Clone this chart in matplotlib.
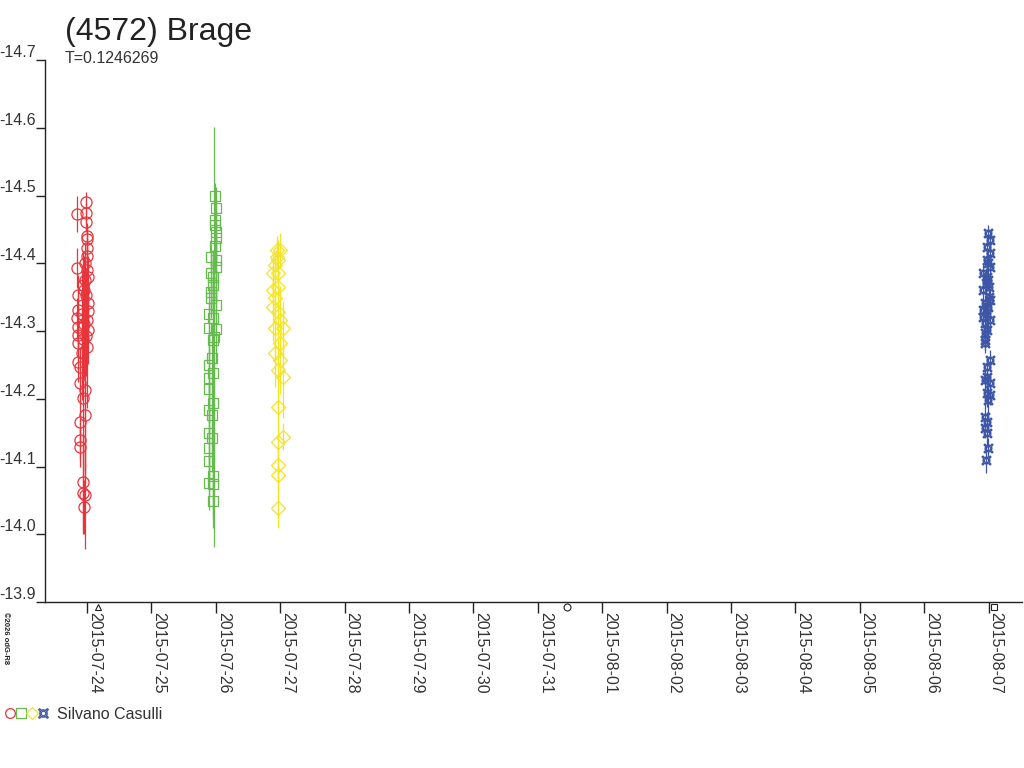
import datetime as dt
import matplotlib
matplotlib.use("Agg")
import matplotlib.pyplot as plt
import matplotlib.dates as mdates
from matplotlib.lines import Line2D

plt.rcParams['font.family'] = ['Liberation Sans', 'DejaVu Sans']

TITLE = "(4572) Brage"
PERIOD = "T=0.1246269"
OBSERVER = "Silvano Casulli"

# each night: hours relative to the date, magnitude, error
red_day = dt.datetime(2015, 7, 24)
red_h = [-0.37, -3.73, -0.37, -0.37, 0.0, 0.0, 0.0, 0.0, -0.75, -3.73, 0.0, 0.37, -0.75,
         -1.49, -1.12, -3.35, -0.37, 0.37, -3.35, 0.37, -1.86, -3.73, 0.0, -1.12, -3.35,
         0.37, -3.35, -0.37, -1.49, -3.35, 0.0, -1.86, -3.35, -2.61, -2.61, -0.75, -1.49,
         -0.75, -2.61, -2.61, -2.61, -1.49, -1.49, -0.75, -1.12]
red_mag = [-14.490, -14.473, -14.474, -14.461, -14.440, -14.436, -14.423, -14.411, -14.400,
           -14.393, -14.390, -14.380, -14.375, -14.368, -14.360, -14.353, -14.353, -14.341,
           -14.331, -14.330, -14.325, -14.319, -14.316, -14.310, -14.306, -14.301, -14.294,
           -14.293, -14.288, -14.282, -14.276, -14.268, -14.254, -14.247, -14.223, -14.213,
           -14.201, -14.176, -14.166, -14.139, -14.129, -14.077, -14.061, -14.058, -14.040]
red_err = [0.015, 0.027, 0.015, 0.015, 0.02, 0.02, 0.025, 0.025, 0.03, 0.03, 0.03, 0.03, 0.04,
           0.05, 0.05, 0.03, 0.04, 0.04, 0.03, 0.04, 0.06, 0.03, 0.06, 0.08, 0.03, 0.05, 0.03,
           0.06, 0.08, 0.03, 0.09, 0.07, 0.03, 0.03, 0.03, 0.12, 0.08, 0.1, 0.03, 0.03, 0.03,
           0.07, 0.06, 0.08, 0.04]

green_day = dt.datetime(2015, 7, 26)
green_h = [-0.37, 0.0, -0.37, -0.37, 0.0, 0.0, -0.37, -1.86, 0.0, 0.0, -1.86, -1.12, -1.12,
           -1.86, -1.86, 0.0, -2.61, -1.12, -2.61, 0.0, -1.12, -0.75, -1.49, -2.61, -1.12,
           -2.61, -2.61, -1.12, -2.61, -1.49, -2.61, -1.49, -2.61, -2.61, -1.12, -2.61, -1.12,
           -1.12]
green_mag = [-14.499, -14.482, -14.464, -14.456, -14.446, -14.437, -14.425, -14.409, -14.405,
             -14.394, -14.386, -14.380, -14.368, -14.358, -14.349, -14.338, -14.325, -14.319,
             -14.304, -14.303, -14.287, -14.291, -14.260, -14.250, -14.238, -14.231, -14.214,
             -14.194, -14.183, -14.176, -14.149, -14.142, -14.127, -14.108, -14.086, -14.076,
             -14.074, -14.049]
green_err = [0.02, 0.03, 0.03, 0.03, 0.04, 0.04, 0.04, 0.02, 0.05, 0.05, 0.03, 0.04, 0.04,
             0.03, 0.03, 0.05, 0.04, 0.05, 0.04, 0.05, 0.06, 0.31, 0.05, 0.04, 0.05, 0.05,
             0.05, 0.06, 0.04, 0.07, 0.07, 0.05, 0.06, 0.05, 0.06, 0.04, 0.05, 0.04]

yellow_day = dt.datetime(2015, 7, 27)
yellow_h = [-1.12, 0.0, -1.12, -0.75, -1.86, -2.61, -0.75, -0.75, -2.61, -1.86, -2.61, -0.75,
            0.0, -1.86, 1.12, 0.0, -1.86, 0.0, -0.75, 1.12, -0.75, -0.75, 1.12, -0.75, -0.75,
            -0.75]
yellow_mag = [-14.420, -14.420, -14.409, -14.405, -14.397, -14.386, -14.386, -14.365,
              -14.361, -14.349, -14.335, -14.328, -14.316, -14.304, -14.304, -14.282,
              -14.268, -14.257, -14.242, -14.232, -14.188, -14.136, -14.144, -14.102,
              -14.087, -14.039]
yellow_err = [0.02, 0.025, 0.02, 0.03, 0.02, 0.03, 0.03, 0.03, 0.03, 0.04, 0.05, 0.04, 0.05,
              0.05, 0.04, 0.06, 0.05, 0.05, 0.05, 0.06, 0.03, 0.06, 0.02, 0.04, 0.04, 0.03]

blue_day = dt.datetime(2015, 8, 7)
blue_h = [-0.37, 0.37, -0.75, 0.37, -0.75, -0.37, 0.37, -2.24, -0.75, -0.37, -1.12, 0.0,
          -2.24, 0.37, -1.49, -0.37, -2.24, -0.75, 0.37, -1.49, -0.75, -1.49, -1.49, -1.49,
          0.37, -0.75, -0.75, -1.49, 0.37, -0.75, 0.37, -0.37, -1.49, -0.75, -1.49, -0.75,
          -0.37, -1.12, 0.0, -2.24]
blue_mag = [-14.445, -14.434, -14.424, -14.415, -14.405, -14.400, -14.394, -14.386,
            -14.380, -14.375, -14.371, -14.365, -14.360, -14.346, -14.341, -14.336,
            -14.331, -14.327, -14.316, -14.312, -14.301, -14.297, -14.287, -14.282,
            -14.257, -14.247, -14.232, -14.228, -14.223, -14.208, -14.206, -14.198,
            -14.173, -14.166, -14.157, -14.149, -14.127, -14.110, -14.350, -14.320]
blue_err = [0.012, 0.015, 0.012, 0.015, 0.015, 0.012, 0.015, 0.015, 0.012, 0.015, 0.012,
            0.015, 0.015, 0.015, 0.012, 0.015, 0.015, 0.012, 0.015, 0.015, 0.015, 0.012,
            0.015, 0.015, 0.015, 0.015, 0.02, 0.015, 0.015, 0.02, 0.015, 0.02, 0.02, 0.015,
            0.015, 0.02, 0.015, 0.02, 0.015, 0.015]

nights = [
    (red_day, red_h, red_mag, red_err, '#e8353c', 'o', 8),
    (green_day, green_h, green_mag, green_err, '#66bb4f', 's', 7),
    (yellow_day, yellow_h, yellow_mag, yellow_err, '#f4e422', 'D', 7),
    (blue_day, blue_h, blue_mag, blue_err, '#3d56a6', '$¤$', 6.5),
]

date_ticks = [dt.datetime(2015, 7, 24) + dt.timedelta(days=i) for i in range(15)]
moon_times = [dt.datetime(2015, 7, 24, 4, 4), dt.datetime(2015, 7, 31, 10, 43),
              dt.datetime(2015, 8, 7, 2, 3)]
moon_marks = ['^', 'o', 's']

fig = plt.figure(figsize=(10.24, 7.68), dpi=100)
ax = fig.add_axes([45 / 1024, 1 - 602 / 768, 977 / 1024, 542 / 768])

for day, hrs, mag, err, col, mk, ms in nights:
    t = [mdates.date2num(day + dt.timedelta(hours=h)) for h in hrs]
    ax.errorbar(t, mag, yerr=err, fmt='none', ecolor=col, elinewidth=0.9, capsize=0)
    ax.plot(t, mag, linestyle='none', marker=mk, ms=ms, mfc='none', mec=col, mew=0.9)

ax.set_ylim(-13.9, -14.7)
x0 = mdates.date2num(dt.datetime(2015, 7, 24))
ax.set_xlim(x0 - 0.652, x0 + 14.52)

ax.set_yticks([-14.7, -14.6, -14.5, -14.4, -14.3, -14.2, -14.1, -14.0, -13.9])
ax.set_yticklabels(['-14.7', '-14.6', '-14.5', '-14.4', '-14.3', '-14.2', '-14.1', '-14.0', '-13.9'])
ax.set_xticks([mdates.date2num(d) for d in date_ticks])
ax.set_xticklabels([d.strftime('%Y-%m-%d') for d in date_ticks])

for s in ['top', 'right']:
    ax.spines[s].set_visible(False)
for s in ['left', 'bottom']:
    ax.spines[s].set_color('#222222')
    ax.spines[s].set_linewidth(1.0)

ax.tick_params(axis='y', direction='out', length=6.5, width=1, pad=0,
               labelsize=11.5, labelcolor='#333333', color='#222222')
ax.tick_params(axis='x', direction='out', length=8, width=1, pad=-1,
               labelsize=11.5, labelcolor='#333333', color='#222222')
for lab in ax.get_yticklabels():
    lab.set_verticalalignment('bottom')
for lab in ax.get_xticklabels():
    lab.set_rotation(-90)
    lab.set_horizontalalignment('left')
    lab.set_verticalalignment('top')

# moon phases just under the axis
for mt, mk in zip(moon_times, moon_marks):
    ax.plot([mdates.date2num(mt)], [-0.009], transform=ax.get_xaxis_transform(),
            marker=mk, ms=5, mfc='none', mec='#222222', mew=0.8, clip_on=False)

fig.text(65 / 1024, 1 - 40 / 768, TITLE, fontsize=23, color='#222222', va='baseline')
fig.text(65 / 1024, 1 - 63 / 768, PERIOD, fontsize=11.5, color='#333333', va='baseline')
fig.text(2 / 1024, 1 - 612 / 768, "©2026 odG-R8", fontsize=5.5, fontweight='bold',
         rotation=-90, ha='left', va='top', color='#222222')

# legend row
for i, (_, _, _, _, col, mk, ms) in enumerate(nights):
    fig.add_artist(Line2D([(10 + 11 * i) / 1024], [1 - 713 / 768], transform=fig.transFigure,
                          marker=mk, ms=7 if mk != 'D' else 6, mfc='none', mec=col, mew=0.9,
                          linestyle='none'))
fig.text(57 / 1024, 1 - 719 / 768, OBSERVER, fontsize=11.5, color='#333333', va='baseline')

fig.savefig('out.png', dpi=100)
